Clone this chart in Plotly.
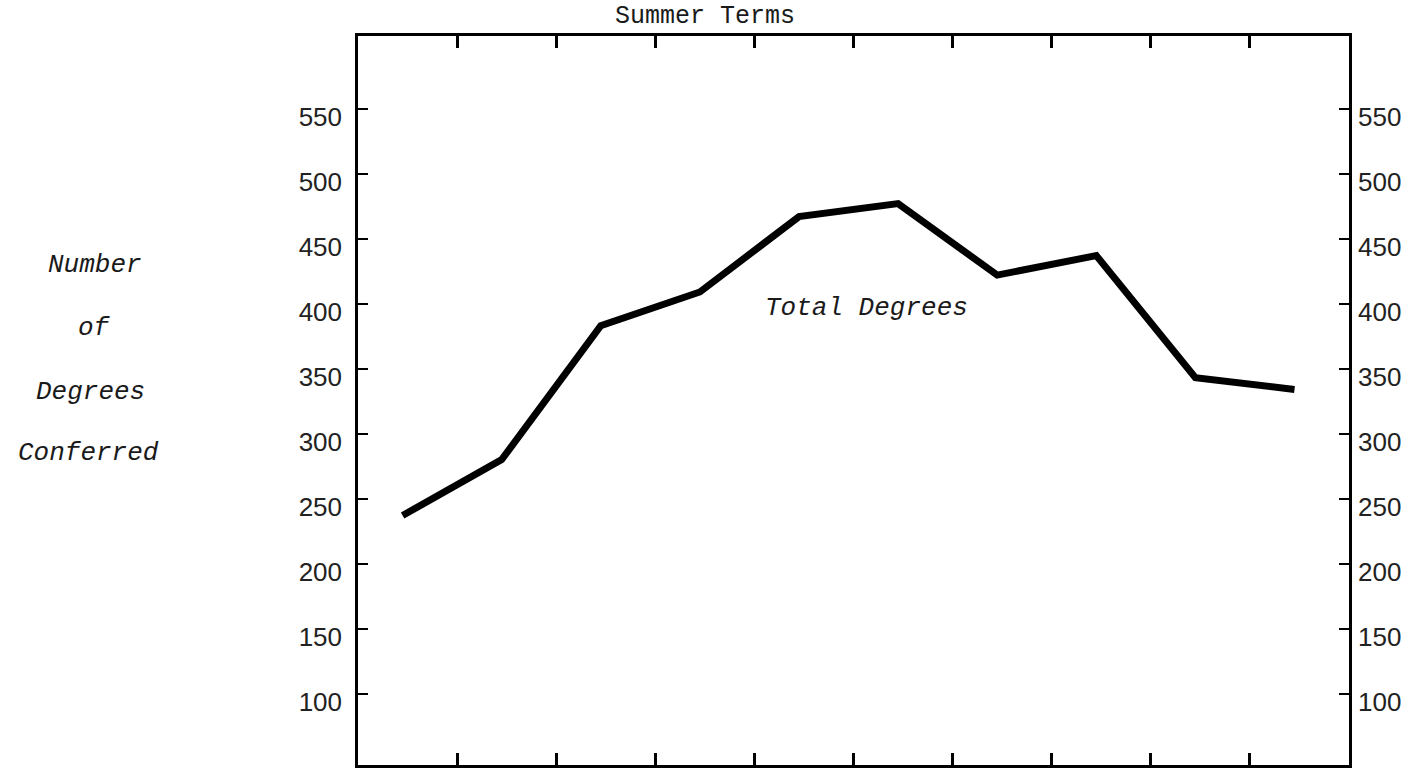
import plotly.graph_objects as go

# Data (ten summer terms, in order)
terms = list(range(10))
total_degrees = [237, 280, 383, 409, 467, 477, 422, 437, 343, 334]
y_ticks = [100, 150, 200, 250, 300, 350, 400, 450, 500, 550]
y_tick_text = ["100", "150", "200", "250", "300", "350", "400", "450", "500", "550"]
x_ticks = [k + 0.55 for k in range(9)]

W, H = 1415, 771
L, R, T, B = 358, 66, 36, 6
x_range = [-0.45, 9.55]
y_range = [45, 606]

fig = go.Figure()
fig.add_trace(go.Scatter(
    x=terms, y=total_degrees, mode="lines",
    line=dict(color="black", width=7, shape="linear"),
    hoverinfo="skip", showlegend=False,
))
# invisible companion trace that carries the right-hand value axis
fig.add_trace(go.Scatter(
    x=terms, y=total_degrees, mode="lines", xaxis="x2", yaxis="y2",
    line=dict(color="rgba(0,0,0,0)", width=0),
    hoverinfo="skip", showlegend=False,
))

tick_font = dict(family="Liberation Sans", size=26, color="#222")

fig.update_layout(
    width=W, height=H,
    margin=dict(l=L, r=R, t=T, b=B),
    paper_bgcolor="white", plot_bgcolor="white",
    xaxis=dict(
        range=x_range, showgrid=False, zeroline=False,
        showline=True, linecolor="black", linewidth=2.5, mirror="allticks",
        ticks="inside", ticklen=12, tickwidth=2.5, tickcolor="black",
        tickvals=x_ticks, showticklabels=False,
    ),
    xaxis2=dict(
        range=x_range, overlaying="x", visible=False,
    ),
    yaxis=dict(
        range=y_range, showgrid=False, zeroline=False,
        showline=True, linecolor="black", linewidth=2.5, mirror=True,
        ticks="inside", ticklen=10, tickwidth=2, tickcolor="black",
        tickvals=y_ticks, ticktext=y_tick_text,
        tickfont=tick_font, ticklabelstandoff=8, ticklabelshift=8,
    ),
    yaxis2=dict(
        range=y_range, overlaying="y", side="right", anchor="x2",
        showgrid=False, zeroline=False, showline=False,
        ticks="inside", ticklen=10, tickwidth=2, tickcolor="black",
        tickvals=y_ticks, ticktext=y_tick_text,
        tickfont=tick_font, ticklabelstandoff=8, ticklabelshift=8,
    ),
)

def px_to_paper(xp, yp):
    return (xp - L) / (W - L - R), (H - B - yp) / (H - T - B)

mono_it = dict(family="Liberation Mono", size=26, color="#1a1a1a")
labels = [("<i>Number</i>", 95, 265), ("<i>of</i>", 94, 328),
          ("<i>Degrees</i>", 90, 392), ("<i>Conferred</i>", 88, 453)]
for text, xp, yp in labels:
    px, py = px_to_paper(xp, yp)
    fig.add_annotation(text=text, x=px, y=py, xref="paper", yref="paper",
                       showarrow=False, font=mono_it, xanchor="center", yanchor="middle")

px, py = px_to_paper(705, 17)
fig.add_annotation(text="Summer Terms", x=px, y=py, xref="paper", yref="paper",
                   showarrow=False, font=dict(family="Liberation Mono", size=25, color="#1a1a1a"),
                   xanchor="center", yanchor="middle")

px, py = px_to_paper(866, 308)
fig.add_annotation(text="<i>Total Degrees</i>", x=px, y=py, xref="paper", yref="paper",
                   showarrow=False, font=dict(family="Liberation Mono", size=26, color="#1a1a1a"),
                   xanchor="center", yanchor="middle")

fig.write_html("out.html", config={"displayModeBar": False},
               post_script="document.body.style.margin='0px';")
